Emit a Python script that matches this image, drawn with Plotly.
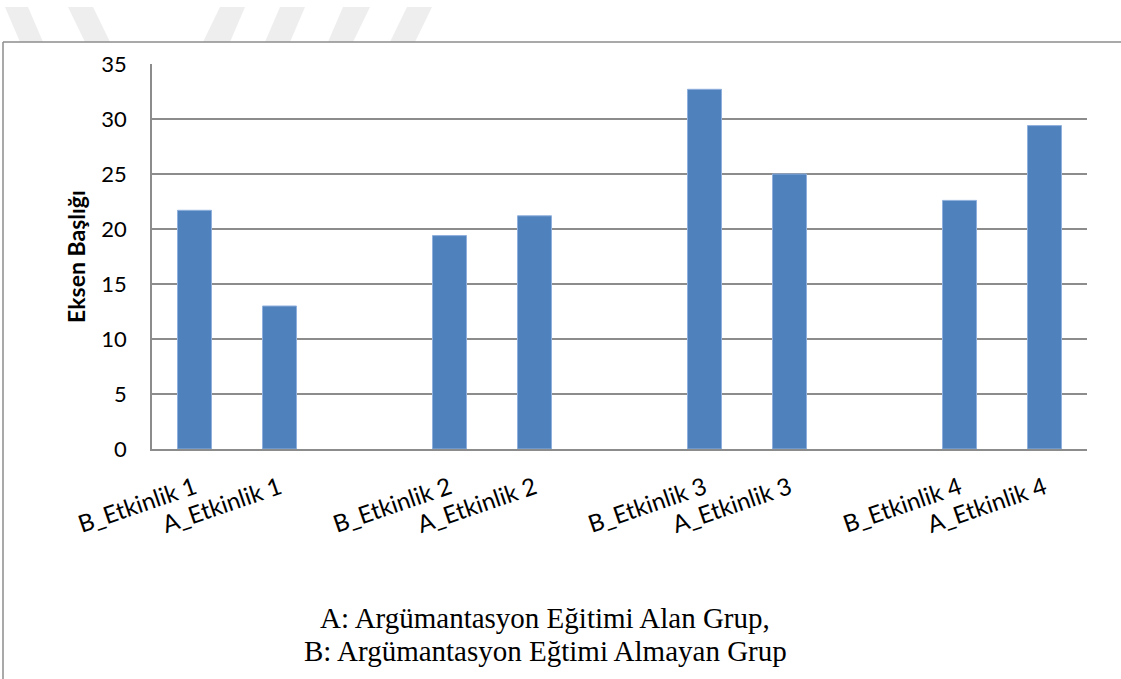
import plotly.graph_objects as go

# Activity scores for the two groups
activities = ["Etkinlik 1", "Etkinlik 2", "Etkinlik 3", "Etkinlik 4"]
group_b = [21.7, 19.4, 32.7, 22.6]   # B: did not receive argumentation training
group_a = [13.0, 21.2, 25.0, 29.4]   # A: received argumentation training
y_ticks = [0, 5, 10, 15, 20, 25, 30, 35]
caption = ["A: Argümantasyon Eğitimi Alan Grup,",
           "B: Argümantasyon Eğtimi Almayan Grup"]

W, H = 1121, 679
L, R, T, B = 152, 34, 64, 230
PW, PH = W - L - R, H - T - B

def px_x(x):
    return (x - L) / PW

def px_y(y):
    return (H - B - y) / PH

# each activity takes three slots: B bar, A bar, empty gap
xs, ys, labels = [], [], []
for i, act in enumerate(activities):
    xs += [3 * i, 3 * i + 1]
    ys += [group_b[i], group_a[i]]
    labels += ["B_" + act, "A_" + act]

fig = go.Figure(go.Bar(
    x=xs, y=ys,
    marker=dict(color="#4f81bd", line=dict(color="#8fb0dc", width=1)),
    width=0.4,
))

shapes = []
# faint chevron marks along the top edge
marks = [
    ((5, 28), (20, 43)),
    ((68, 93), (85, 110)),
    ((220, 245), (203, 230)),
    ((280, 305), (265, 290)),
    ((343, 370), (328, 353)),
    ((407, 432), (390, 415)),
]
for (t0, t1), (b0, b1) in marks:
    path = (f"M {px_x(t0)},{px_y(7)} L {px_x(t1)},{px_y(7)} "
            f"L {px_x(b1)},{px_y(42)} L {px_x(b0)},{px_y(42)} Z")
    shapes.append(dict(type="path", path=path, xref="paper", yref="paper",
                       fillcolor="#eeeeee", line=dict(width=0), layer="below"))

# frame lines
shapes.append(dict(type="line", xref="paper", yref="paper",
                   x0=px_x(3), x1=px_x(W), y0=px_y(42), y1=px_y(42),
                   line=dict(color="#8c8c8c", width=1.5)))
shapes.append(dict(type="line", xref="paper", yref="paper",
                   x0=px_x(3), x1=px_x(3), y0=px_y(42), y1=px_y(H),
                   line=dict(color="#8c8c8c", width=1.5)))

annotations = []
for line_text, cy in zip(caption, [618, 651]):
    annotations.append(dict(
        text=line_text, xref="paper", yref="paper",
        x=px_x(545), y=px_y(cy), xanchor="center", yanchor="middle",
        showarrow=False,
        font=dict(family="Liberation Serif", size=29, color="black")))

fig.update_layout(
    width=W, height=H,
    margin=dict(l=L, r=R, t=T, b=B),
    paper_bgcolor="white", plot_bgcolor="white",
    showlegend=False,
    shapes=shapes,
    annotations=annotations,
    xaxis=dict(
        range=[-0.5, 10.5],
        tickmode="array", tickvals=xs, ticktext=labels,
        tickangle=-19, tickfont=dict(family="Lato", size=24, color="black"),
        ticklabelstandoff=14,
        showgrid=False, showline=True, linecolor="#8c8c8c", linewidth=1.5,
        ticks="", zeroline=False,
    ),
    yaxis=dict(
        range=[0, 35], tickmode="array", tickvals=y_ticks,
        tickfont=dict(family="Lato", size=22, color="black"),
        ticklabelstandoff=19,
        showgrid=True, gridcolor="#8c8c8c", gridwidth=1.5,
        showline=True, linecolor="#8c8c8c", linewidth=1.5,
        zeroline=False, ticks="",
        title=dict(text="<b>Eksen Başlığı</b>",
                   font=dict(family="Lato", size=23, color="black"),
                   standoff=9),
    ),
)

fig.write_html("out.html")
